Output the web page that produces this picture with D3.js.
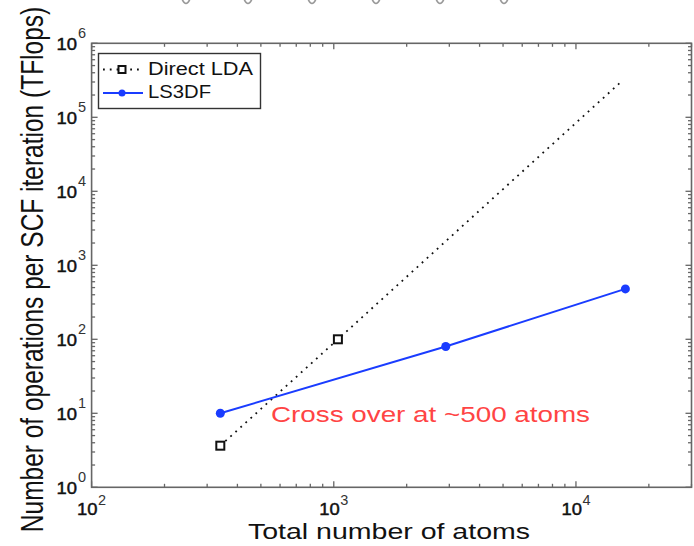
<!DOCTYPE html>
<html><head><meta charset="utf-8">
<script src="https://cdn.jsdelivr.net/npm/d3@7"></script>
<style>body{margin:0;background:#fff}svg{display:block}text{font-family:"Liberation Sans",Arial,Helvetica,sans-serif}</style>
</head><body>
<script>
const ldaAtoms = [340, 1040, 15500];
const ldaOps = [3.65, 100, 310000];
const ldaMarked = [true, true, false];
const ls3dfAtoms = [340, 2900, 16000];
const ls3dfOps = [10, 80, 480];
const xDecades = [2, 3, 4];
const yDecades = [0, 1, 2, 3, 4, 5, 6];
const seriesNames = ["Direct LDA", "LS3DF"];
const annotation = "Cross over at ~500 atoms";
const xTitle = "Total number of atoms";
const yTitle = "Number of operations per SCF iteration (TFlops)";

const W = 694, H = 546;
const m = {l: 91.6, r: 693 - 690.5, t: 43.3, b: 546 - 487.3};
const svg = d3.select("body").append("svg").attr("width", W).attr("height", H);
const x = d3.scaleLog().domain([100, 30000]).range([m.l, W - m.r]);
const y = d3.scaleLog().domain([1, 1e6]).range([H - m.b, m.t]);
const axisCol = "#666";
const SX = 1.28; // horizontal stretch of text in the reference

// cropped artifacts at top
const artX = [186, 248, 312, 376, 440, 504];
svg.selectAll(".art").data(artX).enter().append("path")
  .attr("d", d => `M${d-4},-1 Q${d},8 ${d+4},-1`)
  .attr("fill", "none").attr("stroke", "#999").attr("stroke-width", 1.6);

// ticks on all sides
const x0 = x.range()[0], x1 = x.range()[1], y0 = y.range()[0], y1 = y.range()[1];
const xt = [], yt = [];
for (let d = 2; d <= 4; d++) for (let k = 1; k <= 9; k++) { const v = k * Math.pow(10, d); if (v <= 30000) xt.push({v, major: k === 1}); }
for (let d = 0; d <= 5; d++) for (let k = 1; k <= 9; k++) yt.push({v: k * Math.pow(10, d), major: k === 1});
yt.push({v: 1e6, major: true});
const g = svg.append("g").attr("stroke", axisCol).attr("stroke-width", 1.3);
xt.forEach(t => {
  const px = x(t.v), L = t.major ? 6 : 3.5;
  g.append("line").attr("x1", px).attr("x2", px).attr("y1", y0).attr("y2", y0 - L);
  g.append("line").attr("x1", px).attr("x2", px).attr("y1", y1).attr("y2", y1 + L);
});
yt.forEach(t => {
  const py = y(t.v), L = t.major ? 6 : 3.5;
  g.append("line").attr("y1", py).attr("y2", py).attr("x1", x0).attr("x2", x0 + L);
  g.append("line").attr("y1", py).attr("y2", py).attr("x1", x1).attr("x2", x1 - L);
});
svg.append("rect").attr("x", x0).attr("y", y1).attr("width", x1 - x0).attr("height", y0 - y1)
  .attr("fill", "none").attr("stroke", axisCol).attr("stroke-width", 1.6);

// tick labels
function tickLabel(xr, yb, exp, xe, ye) {
  svg.append("text").attr("x", xr - 20.5).attr("y", yb).attr("textLength", 20.5)
    .attr("lengthAdjust", "spacingAndGlyphs").attr("font-size", 17).attr("fill", "#111")
    .attr("stroke", "#111").attr("stroke-width", 0.45).text("10");
  svg.append("text").attr("x", xe).attr("y", ye).attr("font-size", 14.5).attr("fill", "#333").text(exp);
}
xDecades.forEach(d => {
  const px = x(Math.pow(10, d));
  tickLabel(px + 6, 515, d, px + 6.5, 505);
});
yDecades.forEach(d => {
  const py = y(Math.pow(10, d));
  tickLabel(77, py + 7, d, 78, py - 5.5);
});

// titles
svg.append("text").attr("x", 248).attr("y", 539).attr("textLength", 282).attr("lengthAdjust", "spacingAndGlyphs")
  .attr("font-size", 22).attr("fill", "#111").text(xTitle);
svg.append("g").attr("transform", `translate(43,269.5) scale(${SX},1) rotate(-90)`)
  .append("text").attr("text-anchor", "middle").attr("font-size", 24.5).attr("fill", "#111").text(yTitle);

// data lines
const line = d3.line().x(d => x(d[0])).y(d => y(d[1]));
const lda = ldaAtoms.map((a, i) => [a, ldaOps[i], ldaMarked[i]]);
const ls = ls3dfAtoms.map((a, i) => [a, ls3dfOps[i]]);
const blue = "#1a3cff";
svg.append("path").attr("d", line(lda)).attr("fill", "none").attr("stroke", "#111")
  .attr("stroke-width", 1.8).attr("stroke-dasharray", "1.8,5");
svg.append("path").attr("d", line(ls)).attr("fill", "none").attr("stroke", blue).attr("stroke-width", 2);
svg.selectAll(".sq").data(lda.filter(d => d[2])).enter().append("rect")
  .attr("x", d => x(d[0]) - 4).attr("y", d => y(d[1]) - 4).attr("width", 8).attr("height", 8)
  .attr("fill", "#fff").attr("stroke", "#111").attr("stroke-width", 2);
svg.selectAll(".ci").data(ls).enter().append("circle")
  .attr("cx", d => x(d[0])).attr("cy", d => y(d[1])).attr("r", 4.5).attr("fill", blue);

// annotation
svg.append("text").attr("x", 271).attr("y", 422).attr("textLength", 319).attr("lengthAdjust", "spacingAndGlyphs")
  .attr("font-size", 22).attr("fill", "#ff4444").text(annotation);

// legend
const lg = svg.append("g");
lg.append("rect").attr("x", 98.5).attr("y", 53.5).attr("width", 162).attr("height", 55)
  .attr("fill", "#fff").attr("stroke", "#333").attr("stroke-width", 1.4);
lg.append("line").attr("x1", 103).attr("x2", 143).attr("y1", 69.5).attr("y2", 69.5)
  .attr("stroke", "#111").attr("stroke-width", 1.8).attr("stroke-dasharray", "1.8,5");
lg.append("rect").attr("x", 118.5).attr("y", 66).attr("width", 7).attr("height", 7)
  .attr("fill", "#fff").attr("stroke", "#111").attr("stroke-width", 2);
lg.append("line").attr("x1", 103).attr("x2", 143).attr("y1", 93).attr("y2", 93)
  .attr("stroke", blue).attr("stroke-width", 2);
lg.append("circle").attr("cx", 122).attr("cy", 93).attr("r", 3.5).attr("fill", blue);
const legW = [105, 63];
seriesNames.forEach((n, i) => {
  lg.append("text").attr("x", 148).attr("y", 75 + i * 23).attr("font-size", 17.5)
    .attr("textLength", legW[i]).attr("lengthAdjust", "spacingAndGlyphs").attr("fill", "#111").text(n);
});
</script>
</body></html>
